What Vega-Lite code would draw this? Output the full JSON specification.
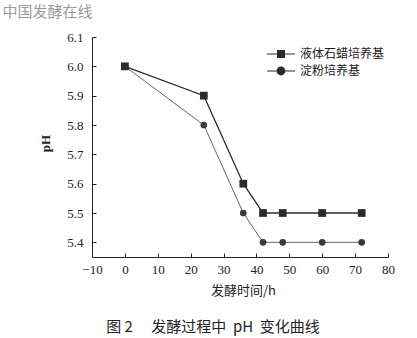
{
  "$schema": "https://vega.github.io/schema/vega-lite/v6.json",
  "width": 296,
  "height": 220,
  "autosize": "none",
  "padding": {"left": 92, "top": 37, "right": 29, "bottom": 81},
  "background": "white",
  "config": {
    "view": {"stroke": null},
    "font": "Liberation Serif",
    "axis": {"grid": false, "domainColor": "#222", "tickColor": "#222", "labelColor": "#222", "labelFont": "Liberation Serif", "labelFontSize": 13, "titleColor": "#222"}
  },
  "title": {"text": "图 2\u3000\u00a0发酵过程中\u00a0 pH\u00a0 变化曲线", "orient": "bottom", "anchor": "middle", "dx": -27, "offset": 23, "fontSize": 15, "fontWeight": "normal", "font": "Noto Sans CJK SC", "color": "#222"},
  "data": {"values": [
    {"t": 0, "ph": 6.0, "s": "淀粉培养基"},
    {"t": 24, "ph": 5.8, "s": "淀粉培养基"},
    {"t": 36, "ph": 5.5, "s": "淀粉培养基"},
    {"t": 42, "ph": 5.4, "s": "淀粉培养基"},
    {"t": 48, "ph": 5.4, "s": "淀粉培养基"},
    {"t": 60, "ph": 5.4, "s": "淀粉培养基"},
    {"t": 72, "ph": 5.4, "s": "淀粉培养基"},
    {"t": 0, "ph": 6.0, "s": "液体石蜡培养基"},
    {"t": 24, "ph": 5.9, "s": "液体石蜡培养基"},
    {"t": 36, "ph": 5.6, "s": "液体石蜡培养基"},
    {"t": 42, "ph": 5.5, "s": "液体石蜡培养基"},
    {"t": 48, "ph": 5.5, "s": "液体石蜡培养基"},
    {"t": 60, "ph": 5.5, "s": "液体石蜡培养基"},
    {"t": 72, "ph": 5.5, "s": "液体石蜡培养基"}
  ]},
  "layer": [
    {
      "encoding": {
        "x": {"field": "t", "type": "quantitative", "scale": {"domain": [-10, 80], "nice": false},
          "axis": {"values": [-10, 0, 10, 20, 30, 40, 50, 60, 70, 80], "labelOverlap": false, "labelFlush": false, "tickSize": -4, "labelPadding": 10, "title": "发酵时间/h", "titleFont": "Noto Sans CJK SC", "titleFontSize": 13, "titleFontWeight": "normal", "titleX": 151, "titleY": 33, "titleBaseline": "middle"}},
        "y": {"field": "ph", "type": "quantitative", "scale": {"domain": [5.35, 6.1], "nice": false, "zero": false},
          "axis": {"values": [5.4, 5.5, 5.6, 5.7, 5.8, 5.9, 6.0, 6.1], "labelOverlap": false, "labelFlush": false, "format": ".1f", "tickSize": -4, "labelPadding": 13, "title": "pH", "titleFont": "Liberation Serif", "titleFontSize": 13, "titleFontWeight": "bold", "titleX": -47, "titleY": 106, "titleAngle": -90, "titleBaseline": "middle", "titleAlign": "center"}}
      },
      "layer": [
        {
          "mark": {"type": "line"},
          "encoding": {
            "detail": {"field": "s", "type": "nominal"},
            "color": {"condition": {"test": "datum.s === '淀粉培养基'", "value": "#555555"}, "value": "#2b2b2b"},
            "strokeWidth": {"condition": {"test": "datum.s === '淀粉培养基'", "value": 0.9}, "value": 1.3}
          }
        },
        {
          "mark": {"type": "point", "filled": true, "opacity": 1},
          "encoding": {
            "color": {"condition": {"test": "datum.s === '淀粉培养基'", "value": "#3a3a3a"}, "value": "#2b2b2b"},
            "size": {"condition": {"test": "datum.s === '淀粉培养基'", "value": 45}, "value": 60},
            "shape": {"condition": {"test": "datum.s === '淀粉培养基'", "value": "circle"}, "value": "square"}
          }
        },
        {
          "mark": {"type": "point", "filled": true, "opacity": 0, "color": "#2b2b2b"},
          "encoding": {
            "shape": {"field": "s", "type": "nominal",
              "scale": {"domain": ["液体石蜡培养基", "淀粉培养基"], "range": ["M-3.5,-0.14H3.5V0.14H-3.5ZM-1,-1H1V1H-1Z", "M-3.5,-0.14H3.5V0.14H-3.5ZM-1.1,0A1.1,1.1 0 1,1 1.1,0A1.1,1.1 0 1,1 -1.1,0Z"]},
              "legend": {"title": null, "orient": "none", "legendX": 183, "legendY": 11, "symbolSize": 64, "labelOffset": 13, "labelFont": "Noto Sans CJK SC", "labelFontSize": 12, "labelColor": "#222", "rowPadding": 2, "padding": 0, "symbolFillColor": "#2b2b2b", "symbolOpacity": 1}}
          }
        }
      ]
    },
    {
      "mark": {"type": "point", "opacity": 0},
      "encoding": {
        "x": {"field": "t", "type": "quantitative", "scale": {"domain": [-10, 80], "nice": false},
          "axis": {"orient": "top", "title": "中国发酵在线", "labels": false, "ticks": false, "domain": false, "grid": false, "titleX": -45, "titleY": -26, "titleBaseline": "middle", "titleFont": "Noto Sans CJK SC", "titleFontSize": 15, "titleFontWeight": "normal", "titleColor": "#9a9a9a"}}
      }
    }
  ],
  "resolve": {"scale": {"x": "independent"}}
}
